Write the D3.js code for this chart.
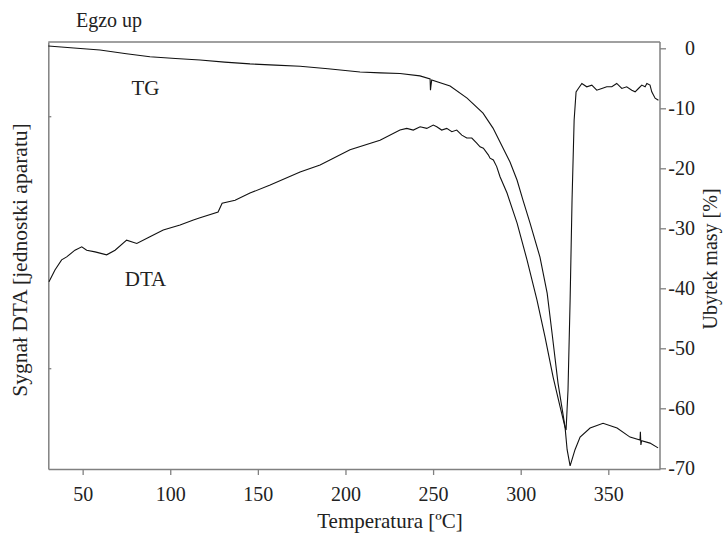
<!DOCTYPE html>
<html>
<head>
<meta charset="utf-8">
<script src="https://cdn.jsdelivr.net/npm/d3@7"></script>
<style>
body { margin: 0; background: #fff; }
text { font-family: "Liberation Serif", "DejaVu Serif", serif; fill: #222; }
</style>
</head>
<body>
<div id="chart"></div>
<script>
let w = 725
let h = 534

// temperature [C] and mass loss [%]
let tgTemp = [30.4, 45, 59.9, 75, 88.4, 103, 117.0, 131, 145.5, 160, 174.1, 190, 208.3, 220, 231.1, 242.5,
	248.3, 248.5, 248.8, 249.2, 259.7, 269.4, 278.5, 284.2, 289.9, 293.9, 297.9, 301.3, 305.3, 311.0, 315.1, 317.9,
	321.3, 325.3, 326.5, 328.2, 331.0, 333.9, 339.6, 347.0, 355.0, 362.4, 368.1, 368.3, 368.6, 369.0, 373.8, 378.4]
let tgMass = [0.38, 0.05, -0.28, -0.9, -1.4, -1.7, -1.95, -2.3, -2.6, -2.8, -3.0, -3.4, -3.95, -4.1, -4.2, -4.6,
	-5.1, -7.0, -6.2, -5.3, -6.3, -8.3, -10.8, -13.3, -16.6, -18.95, -21.95, -25.3, -29.1, -34.8, -40.8, -47.5,
	-55.8, -63.1, -66.9, -69.6, -66.9, -64.8, -63.3, -62.5, -63.3, -64.8, -65.3, -63.9, -66.1, -65.4, -65.8, -66.6]

// temperature [C] and DTA signal (instrument units)
let dtaTemp = [30.8, 34.2, 38.0, 40.9, 45.6, 49.5, 52.3, 57.1, 63.7, 68.5, 75.1, 80.9, 88.4, 96.0, 105.6, 113.2,
	117.0, 127.3, 129.6, 137.0, 145.5, 157.0, 174.1, 185.5, 202.6, 219.7,
	231.1, 235.0, 238.7, 242.6, 246.4, 250.1, 252.1, 254.9, 257.8, 260.7, 263.5, 266.4, 269.2, 272.1, 274.9,
	276.8, 278.7, 281.5, 282.5, 284.4, 286.3, 288.2,
	292.2, 297.9, 303.6, 309.3, 313.9, 318.5, 322.5, 325.3, 325.9, 327.0, 328.2, 329.3, 330.5, 331.6,
	332.9, 334.9, 337.7, 340.6, 343.4, 346.3, 349.1, 352.0, 354.8, 357.7, 360.5, 363.4, 365.3, 367.2,
	369.1, 371.0, 372.0, 373.8, 374.8, 376.7, 378.6]
let dtaSignal = [40.6, 43.4, 45.8, 46.5, 48.1, 48.9, 48.1, 47.7, 47.0, 48.1, 50.5, 49.7, 51.3, 52.9, 54.1, 55.3,
	55.8, 57.2, 59.3, 60.0, 61.7, 63.6, 66.7, 68.4, 72.0, 74.3,
	76.7, 77.1, 76.7, 77.5, 77.1, 77.9, 77.5, 76.7, 77.1, 76.3, 76.7, 75.5, 74.8, 74.8, 73.6,
	72.7, 72.4, 70.8, 70.0, 69.6, 68.0, 65.6,
	61.7, 54.6, 45.8, 36.2, 27.4, 17.9, 10.8, 6.0, 5.3, 14.8, 36.2, 60.0, 79.1, 85.8,
	86.6, 87.8, 87.0, 87.4, 86.2, 86.6, 87.0, 87.0, 87.8, 86.6, 87.0, 86.2, 85.8, 86.6,
	87.4, 87.0, 87.8, 87.4, 85.8, 84.3, 83.8]

let xTicks = [50, 100, 150, 200, 250, 300, 350]
let massTicks = [0, -10, -20, -30, -40, -50, -60, -70]
let dtaTicks = [20, 80]

let plotLeft = 48.3, plotRight = 660, plotTop = 42, plotBottom = 469

let svg = d3.select("#chart").append("svg")
	.attr("width", w)
	.attr("height", h)

let xScale = d3.scaleLinear().domain([30.4, 379.5]).range([plotLeft, plotRight])
let massScale = d3.scaleLinear().domain([-70, 1.05]).range([468.3, plotTop])
let dtaScale = d3.scaleLinear().domain([-4.0, 97.67]).range([plotBottom, plotTop])

let axisColor = "#808080"

// frame top
svg.append("line")
	.attr("x1", plotLeft).attr("x2", plotRight)
	.attr("y1", plotTop).attr("y2", plotTop)
	.attr("stroke", axisColor).attr("stroke-width", 1.5)

let styleAxis = g => {
	g.select(".domain").attr("stroke", axisColor).attr("stroke-width", 1.5)
	g.selectAll(".tick line").attr("stroke", axisColor).attr("stroke-width", 1.3)
	g.selectAll("text").attr("font-size", 20).attr("fill", "#222")
		.attr("font-family", "Liberation Serif, DejaVu Serif, serif")
}

// bottom axis
svg.append("g")
	.attr("transform", "translate(0," + plotBottom + ")")
	.call(d3.axisBottom(xScale).tickValues(xTicks).tickSizeInner(6).tickSizeOuter(0).tickPadding(12))
	.call(styleAxis)

// left axis (DTA, unlabelled)
svg.append("g")
	.attr("transform", "translate(" + plotLeft + ",0)")
	.call(d3.axisLeft(dtaScale).tickValues(dtaTicks).tickSizeInner(-3).tickSizeOuter(0).tickFormat(""))
	.call(styleAxis)

// right axis (mass loss), plain hyphen as minus
let rightAxis = svg.append("g")
	.attr("transform", "translate(" + plotRight + ",0)")
	.call(d3.axisRight(massScale).tickValues(massTicks).tickSizeInner(6).tickSizeOuter(0)
		.tickFormat(d => d === 0 ? "0" : "-" + Math.abs(d)))
	.call(styleAxis)
rightAxis.select(".domain").attr("d", "M0," + plotTop + "V" + plotBottom)
rightAxis.selectAll(".tick text").attr("text-anchor", "end").attr("x", 35)

// curves
let tgData = tgTemp.map((t, i) => ({ t: t, v: tgMass[i] }))
let dtaData = dtaTemp.map((t, i) => ({ t: t, v: dtaSignal[i] }))

svg.append("path")
	.datum(tgData)
	.attr("fill", "none")
	.attr("stroke", "#111")
	.attr("stroke-width", 1.1)
	.attr("d", d3.line().x(d => xScale(d.t)).y(d => massScale(d.v)))

svg.append("path")
	.datum(dtaData)
	.attr("fill", "none")
	.attr("stroke", "#111")
	.attr("stroke-width", 1.1)
	.attr("d", d3.line().x(d => xScale(d.t)).y(d => dtaScale(d.v)))

// labels
let addText = (x, y, t, size, anchor) => svg.append("text")
	.attr("x", x).attr("y", y)
	.attr("font-size", size)
	.attr("text-anchor", anchor || "middle")
	.text(t)

addText(76, 27, "Egzo up", 20, "start")
addText(145.5, 95, "TG", 21)
addText(145.5, 286, "DTA", 21)
addText(390, 528, "Temperatura [ºC]", 21)

svg.append("text")
	.attr("transform", "translate(27,260) rotate(-90)")
	.attr("text-anchor", "middle")
	.attr("font-size", 21.5)
	.text("Sygnał DTA [jednostki aparatu]")

svg.append("text")
	.attr("transform", "translate(717,259) rotate(-90)")
	.attr("text-anchor", "middle")
	.attr("font-size", 20)
	.text("Ubytek masy [%]")
</script>
</body>
</html>
